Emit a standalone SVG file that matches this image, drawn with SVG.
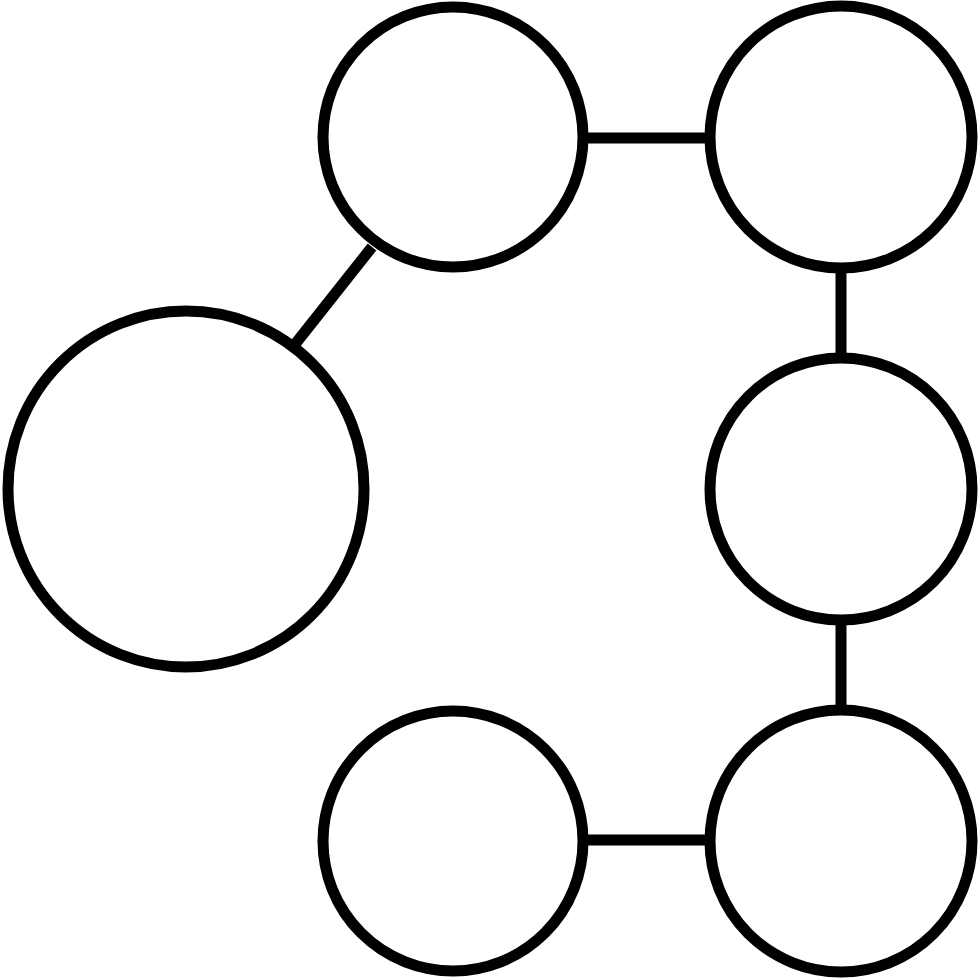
<svg xmlns="http://www.w3.org/2000/svg" width="980" height="980" viewBox="0 0 980 980">
<style>
.n{fill:#fff;stroke:#000;stroke-width:11}
.c{stroke:#000;stroke-width:11;fill:none}
</style>
<rect width="980" height="980" fill="#fff"/>
<g id="connectors">
<line class="c" x1="588" y1="138" x2="706" y2="138"/>
<line class="c" x1="841" y1="270" x2="841" y2="354"/>
<line class="c" x1="841" y1="624" x2="841" y2="707"/>
<line class="c" x1="588" y1="840" x2="706" y2="840"/>
<line class="c" x1="296" y1="343" x2="372" y2="247"/>
</g>
<g id="n1"><circle class="n" cx="453" cy="137" r="130"/></g>
<g id="n2"><circle class="n" cx="841" cy="137" r="131"/></g>
<g id="n3"><circle class="n" cx="841" cy="489" r="131"/></g>
<g id="n4"><circle class="n" cx="841" cy="841" r="131"/></g>
<g id="n5"><circle class="n" cx="453" cy="841" r="130"/></g>
<g id="n6"><circle class="n" cx="186" cy="489" r="178"/></g>
</svg>
